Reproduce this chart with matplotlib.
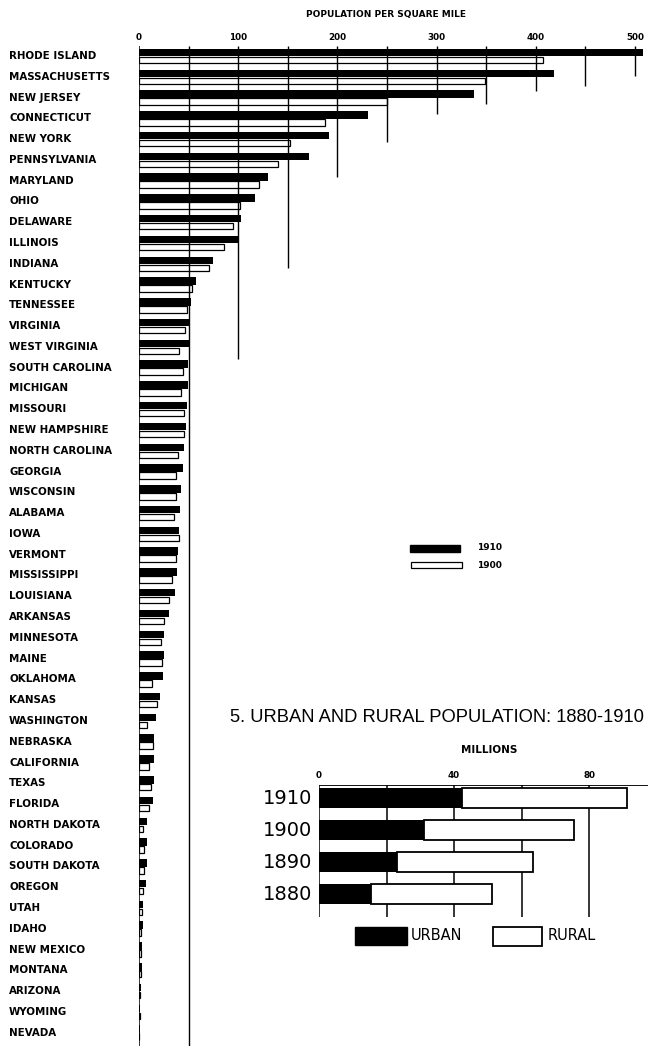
# %%
import matplotlib.pyplot as plt
from matplotlib.patches import Rectangle

# %%
# Density of population by states, 1910 and 1900 (persons per square mile)
states = ['RHODE ISLAND', 'MASSACHUSETTS', 'NEW JERSEY', 'CONNECTICUT',
          'NEW YORK', 'PENNSYLVANIA', 'MARYLAND', 'OHIO', 'DELAWARE',
          'ILLINOIS', 'INDIANA', 'KENTUCKY', 'TENNESSEE', 'VIRGINIA',
          'WEST VIRGINIA', 'SOUTH CAROLINA', 'MICHIGAN', 'MISSOURI',
          'NEW HAMPSHIRE', 'NORTH CAROLINA', 'GEORGIA', 'WISCONSIN',
          'ALABAMA', 'IOWA', 'VERMONT', 'MISSISSIPPI', 'LOUISIANA',
          'ARKANSAS', 'MINNESOTA', 'MAINE', 'OKLAHOMA', 'KANSAS',
          'WASHINGTON', 'NEBRASKA', 'CALIFORNIA', 'TEXAS', 'FLORIDA',
          'NORTH DAKOTA', 'COLORADO', 'SOUTH DAKOTA', 'OREGON', 'UTAH',
          'IDAHO', 'NEW MEXICO', 'MONTANA', 'ARIZONA', 'WYOMING', 'NEVADA']
dens_1910 = [508.5, 418.8, 337.7, 231.3, 191.2, 171.0, 130.3, 117.0, 103.0,
             100.6, 74.9, 57.0, 52.4, 51.2, 50.8, 49.7, 48.9, 47.9, 47.7,
             45.3, 44.4, 42.2, 41.7, 40.0, 39.0, 38.8, 36.5, 30.0, 25.7,
             24.8, 23.9, 20.7, 17.1, 15.5, 15.3, 14.8, 13.7, 8.2, 7.7, 7.6,
             7.0, 4.5, 3.9, 2.7, 2.6, 1.8, 1.5, 0.7]
dens_1900 = [407.0, 348.9, 250.3, 187.5, 152.6, 140.1, 120.5, 102.1, 94.3,
             86.1, 70.1, 53.7, 48.4, 46.2, 39.9, 44.4, 42.2, 45.2, 45.7,
             39.0, 37.6, 37.4, 35.5, 40.2, 37.6, 33.5, 30.4, 25.0, 21.7,
             23.2, 13.0, 18.0, 8.5, 13.9, 10.0, 11.6, 9.7, 4.5, 5.2, 5.2,
             4.4, 3.4, 1.9, 1.6, 1.7, 1.1, 0.9, 0.4]
density_ticks = [0, 100, 200, 300, 400, 500]
# vertical rules every 50, each stopping at a different row
rule_values = [50, 100, 150, 200, 250, 300, 350, 400, 450, 500]
rule_end_rows = [47.64, 14.6, 10.2, 5.8, 4.15, 2.8, 2.3, 1.7, 1.45, 0.95]

# Urban and rural population, millions
census_years = ['1910', '1900', '1890', '1880']
urban = [42.5, 31.0, 23.2, 15.5]
rural = [48.7, 44.7, 40.2, 35.8]
million_ticks = [0, 40, 80]
million_rules = [0, 20, 40, 60, 80]

# %%
W, H = 648, 1050
fig = plt.figure(figsize=(W / 100, H / 100), dpi=100, facecolor='white')
lab_font = dict(family='DejaVu Sans', fontweight='bold', color='black')

# Main chart: x=0 at px 139, 0.992 px per unit; rows 20.78 px apart
x0_px, ppu = 139, 0.992
top_px, bot_px = 46, 1046
row0_px, row_px = 56, 20.78
ax = fig.add_axes([x0_px / W, 1 - bot_px / H, (W - x0_px) / W,
                   (bot_px - top_px) / H])
ax.set_xlim(0, (W - x0_px) / ppu)
y_top = (top_px - row0_px) / row_px
y_bot = (bot_px - row0_px) / row_px
ax.set_ylim(y_bot, y_top)
ax.axis('off')

rows = list(range(len(states)))
ax.barh([r - 0.17 for r in rows], dens_1910, height=0.36, color='black',
        zorder=3)
ax.barh([r + 0.19 for r in rows], dens_1900, height=0.31, color='none',
        edgecolor='black', linewidth=0.9, zorder=3)
ax.vlines(0, y_top, y_bot, color='black', linewidth=1.1, zorder=4)
ax.vlines(rule_values, y_top, rule_end_rows, color='black', linewidth=1.0,
          zorder=2)

for v in density_ticks:
    ax.text(v, y_top - 9 / row_px, str(v), ha='center', va='center',
            fontsize=6.3, **lab_font)
fig.text(386 / W, 1 - 15 / H, 'POPULATION PER SQUARE MILE', ha='center',
         va='center', fontsize=6.5, **lab_font)
for r, name in zip(rows, states):
    ax.text((9 - x0_px) / (W - x0_px), r, name, ha='left', va='center',
            transform=ax.get_yaxis_transform(), fontsize=7.4, **lab_font)

# legend of the main chart
fig.add_artist(Rectangle((410 / W, 1 - 552 / H), 50 / W, 7 / H,
                         transform=fig.transFigure, fc='black', ec='black'))
fig.add_artist(Rectangle((411 / W, 1 - 568 / H), 51 / W, 6 / H,
                         transform=fig.transFigure, fc='white', ec='black',
                         lw=0.9))
fig.text(477 / W, 1 - 548 / H, '1910', ha='left', va='center', fontsize=6.5,
         **lab_font)
fig.text(477 / W, 1 - 565 / H, '1900', ha='left', va='center', fontsize=6.5,
         **lab_font)

# %%
# Inset: urban and rural population
ix0, ippu = 319, 3.375
itop, ibot = 785, 917
irow0, irow = 798, 32
ax2 = fig.add_axes([ix0 / W, 1 - ibot / H, (W - ix0) / W, (ibot - itop) / H])
ax2.set_xlim(0, (W - ix0) / ippu)
iy_top = (itop - irow0) / irow
iy_bot = (ibot - irow0) / irow
ax2.set_ylim(iy_bot, iy_top)
ax2.axis('off')

yrs = list(range(len(census_years)))
ax2.vlines(million_rules, iy_top, iy_bot, color='black', linewidth=1.1,
           zorder=1)
ax2.hlines(iy_top, 0, (W - ix0) / ippu, color='black', linewidth=1.3)
ax2.barh(yrs, urban, height=0.63, color='black', zorder=3)
ax2.barh(yrs, rural, left=urban, height=0.63, color='white',
         edgecolor='black', linewidth=1.3, zorder=3)

for v in million_ticks:
    ax2.text(v, iy_top - 10 / irow, str(v), ha='center', va='center',
             fontsize=6.3, **lab_font)
for y, lab in zip(yrs, census_years):
    fig.text(312 / W, 1 - (irow0 + y * irow) / H, lab, ha='right',
             va='center', fontsize=14, family='DejaVu Sans')
fig.text(489 / W, 1 - 750 / H, 'MILLIONS', ha='center', va='center',
         fontsize=7.5, **lab_font)
fig.text(230 / W, 1 - 717 / H, '5. URBAN AND RURAL POPULATION: 1880-1910',
         ha='left', va='center', fontsize=13.2,
         family=['Liberation Sans', 'DejaVu Sans'])

# inset legend
fig.add_artist(Rectangle((355 / W, 1 - 945 / H), 52 / W, 18 / H,
                         transform=fig.transFigure, fc='black', ec='black'))
fig.add_artist(Rectangle((493 / W, 1 - 946 / H), 49 / W, 19 / H,
                         transform=fig.transFigure, fc='white', ec='black',
                         lw=1.3))
fig.text(411 / W, 1 - 936 / H, 'URBAN', ha='left', va='center',
         fontsize=10.5, family='DejaVu Sans')
fig.text(548 / W, 1 - 936 / H, 'RURAL', ha='left', va='center',
         fontsize=10.5, family='DejaVu Sans')

# Save the figure
fig.savefig('out.png', dpi=100, facecolor='white')
